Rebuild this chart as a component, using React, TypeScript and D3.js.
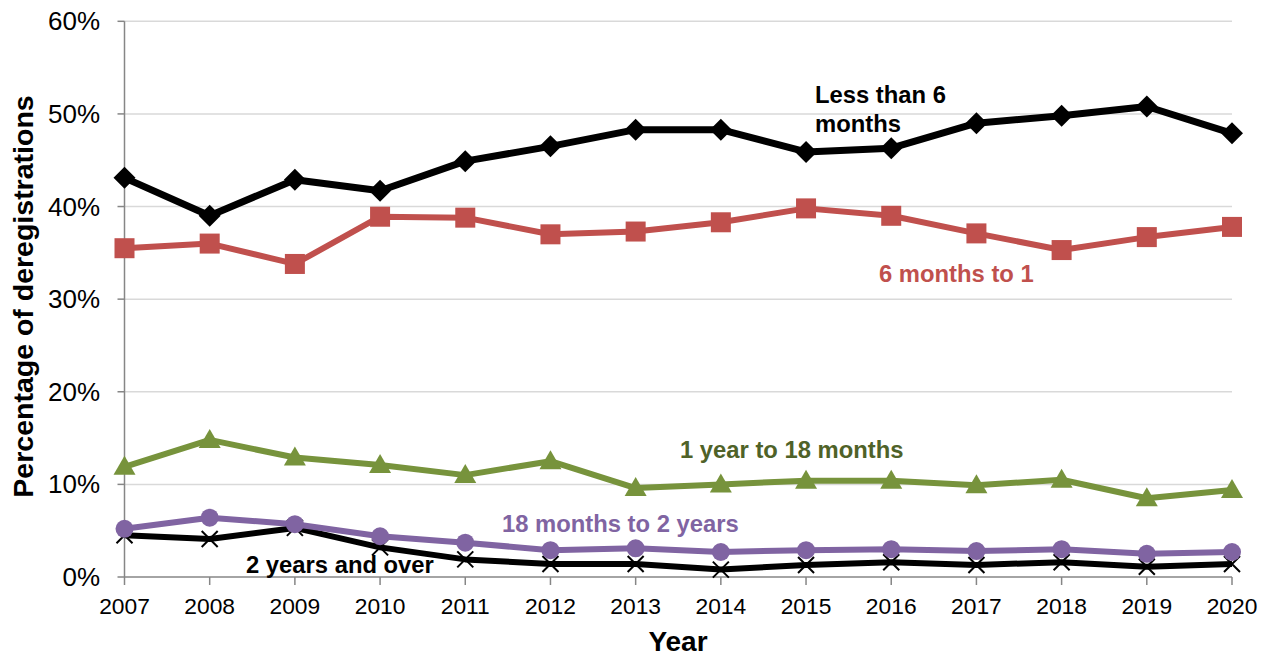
import React from "react";
import * as d3 from "d3";

const years = [2007, 2008, 2009, 2010, 2011, 2012, 2013, 2014, 2015, 2016, 2017, 2018, 2019, 2020];
const yTicks = [0, 10, 20, 30, 40, 50, 60];
const lessThan6 = [43.1, 39.0, 42.9, 41.7, 44.9, 46.5, 48.3, 48.3, 45.9, 46.3, 49.0, 49.8, 50.8, 47.9];
const sixTo12 = [35.5, 36.0, 33.8, 38.9, 38.8, 37.0, 37.3, 38.3, 39.8, 39.0, 37.1, 35.3, 36.7, 37.8];
const oneYrTo18 = [11.9, 14.8, 12.9, 12.1, 11.0, 12.5, 9.6, 10.0, 10.4, 10.4, 9.9, 10.5, 8.5, 9.4];
const eighteenTo24 = [5.2, 6.4, 5.7, 4.4, 3.7, 2.9, 3.1, 2.7, 2.9, 3.0, 2.8, 3.0, 2.5, 2.7];
const twoPlus = [4.5, 4.1, 5.3, 3.2, 1.9, 1.4, 1.4, 0.8, 1.3, 1.6, 1.3, 1.6, 1.1, 1.4];

type Series = { name: string; values: number[]; color: string; marker: string; width: number };
const series: Series[] = [
  { name: "2 years and over", values: twoPlus, color: "#000000", marker: "x", width: 6 },
  { name: "18 months to 2 years", values: eighteenTo24, color: "#8064A2", marker: "circle", width: 6 },
  { name: "1 year to 18 months", values: oneYrTo18, color: "#77933C", marker: "triangle", width: 6 },
  { name: "6 months to 1", values: sixTo12, color: "#C0504D", marker: "square", width: 6 },
  { name: "Less than 6 months", values: lessThan6, color: "#000000", marker: "diamond", width: 7 },
];

const labels = [
  { lines: ["Less than 6", "months"], x: 815, y: 103, color: "#000000" },
  { lines: ["6 months to 1"], x: 879, y: 282, color: "#C0504D" },
  { lines: ["1 year to 18 months"], x: 680, y: 458, color: "#4F6228" },
  { lines: ["18 months to 2 years"], x: 502, y: 532, color: "#8064A2" },
  { lines: ["2 years and over"], x: 246, y: 573, color: "#000000" },
];

export default function App() {
  const W = 1272, H = 657;
  const left = 124.5, right = 1232, top = 21.3, bottom = 577;
  const x = d3.scalePoint<number>().domain(years).range([left, right]);
  const y = d3.scaleLinear().domain([0, 60]).range([bottom, top]);
  const line = d3.line<number>().x((_, i) => x(years[i])!).y((v) => y(v));
  const font = "Arial, 'Liberation Sans', sans-serif";

  const marker = (s: Series, cx: number, cy: number, k: string) => {
    switch (s.marker) {
      case "diamond":
        return <path key={k} d={`M${cx},${cy - 11}L${cx + 11},${cy}L${cx},${cy + 11}L${cx - 11},${cy}Z`} fill={s.color} />;
      case "square":
        return <rect key={k} x={cx - 10} y={cy - 10} width={20} height={20} fill={s.color} />;
      case "triangle":
        return <path key={k} d={`M${cx},${cy - 11}L${cx + 11},${cy + 8}L${cx - 11},${cy + 8}Z`} fill={s.color} />;
      case "circle":
        return <circle key={k} cx={cx} cy={cy} r={9} fill={s.color} />;
      default:
        return (
          <path key={k} d={`M${cx - 8},${cy - 8}L${cx + 8},${cy + 8}M${cx + 8},${cy - 8}L${cx - 8},${cy + 8}`} stroke={s.color} strokeWidth={2} fill="none" />
        );
    }
  };

  return (
    <svg width={W} height={H} style={{ position: "absolute", left: 0, top: 0, background: "#fff" }} fontFamily={font}>
      {yTicks.map((t) => (
        <g key={t}>
          {t > 0 && <line x1={left} x2={right} y1={y(t)} y2={y(t)} stroke="#D9D9D9" strokeWidth={1.5} />}
          <line x1={left - 7} x2={left} y1={y(t)} y2={y(t)} stroke="#868686" strokeWidth={1.5} />
          <text x={100} y={y(t) + 9} textAnchor="end" fontSize={26} fill="#000">{t}%</text>
        </g>
      ))}
      <line x1={left} x2={left} y1={top} y2={bottom} stroke="#868686" strokeWidth={1.5} />
      <line x1={left} x2={right} y1={bottom} y2={bottom} stroke="#868686" strokeWidth={1.5} />
      {years.map((yr) => (
        <g key={yr}>
          <line x1={x(yr)} x2={x(yr)} y1={bottom} y2={bottom + 8} stroke="#868686" strokeWidth={1.5} />
          <text x={x(yr)} y={614} textAnchor="middle" fontSize={22.8} fill="#000">{yr}</text>
        </g>
      ))}
      <text x={678} y={651} textAnchor="middle" fontSize={28} fontWeight="bold">Year</text>
      <text transform="translate(33,296.5) rotate(-90)" textAnchor="middle" fontSize={28.5} fontWeight="bold">Percentage of deregistrations</text>
      {series.map((s) => (
        <g key={s.name}>
          <path d={line(s.values) || ""} fill="none" stroke={s.color} strokeWidth={s.width} strokeLinejoin="round" />
          {s.values.map((v, i) => marker(s, x(years[i])!, y(v), `${s.name}-${i}`))}
        </g>
      ))}
      {labels.map((l) => (
        <text key={l.lines[0]} x={l.x} y={l.y} fontSize={23.8} fontWeight="bold" fill={l.color}>
          {l.lines.map((ln, i) => (
            <tspan key={i} x={l.x} dy={i === 0 ? 0 : 29}>{ln}</tspan>
          ))}
        </text>
      ))}
    </svg>
  );
}
